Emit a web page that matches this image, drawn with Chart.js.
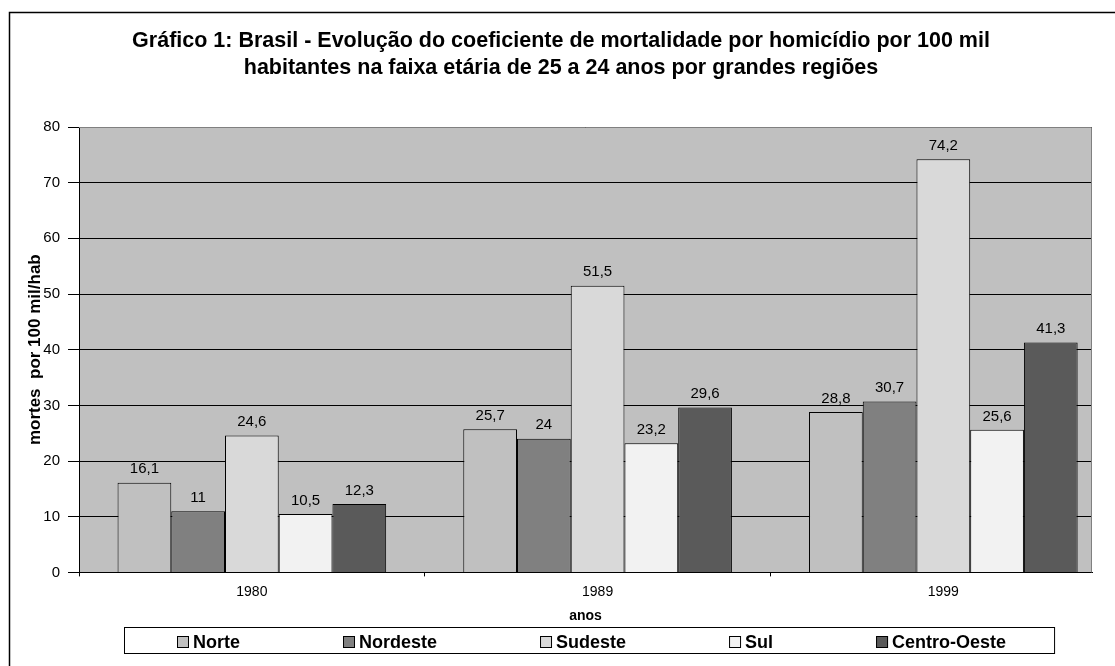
<!DOCTYPE html>
<html>
<head>
<meta charset="utf-8">
<script src="https://cdn.jsdelivr.net/npm/chart.js@4.4.0/dist/chart.umd.min.js"></script>
<style>
  html, body { margin: 0; padding: 0; background: #fff; }
  #wrap { width: 1115px; height: 666px; position: relative; }
</style>
</head>
<body>
<div id="wrap"><canvas id="myChart"></canvas></div>
<script>
// Data
const anos = ['1980', '1989', '1999'];
const norte = [16.1, 25.7, 28.8];
const nordeste = [11, 24, 30.7];
const sudeste = [24.6, 51.5, 74.2];
const sul = [10.5, 23.2, 25.6];
const centroOeste = [12.3, 29.6, 41.3];
const yTicks = [0, 10, 20, 30, 40, 50, 60, 70, 80];

const FONT = "'Liberation Sans', Arial, sans-serif";
Chart.defaults.font.family = FONT;
Chart.defaults.color = '#000';

function fmt(v) {
    return String(v).replace('.', ',');
}

// background, frame, data labels and the boxed legend
const decorPlugin = {
    id: 'decor',
    beforeDraw(chart) {
        const ctx = chart.ctx;
        const a = chart.chartArea;
        ctx.save();
        ctx.fillStyle = '#fff';
        ctx.fillRect(0, 0, chart.width, chart.height);
        ctx.fillStyle = '#c0c0c0';
        ctx.fillRect(a.left, a.top, a.right - a.left, a.bottom - a.top);
        // outer frame (runs off the right and bottom edges)
        ctx.strokeStyle = '#000';
        ctx.lineWidth = 1.5;
        ctx.strokeRect(9.5, 12.5, chart.width + 20, chart.height + 20);
        ctx.restore();
    },
    afterDatasetsDraw(chart) {
        const ctx = chart.ctx;
        const a = chart.chartArea;
        ctx.save();
        // gray top and right edge of plot area
        ctx.strokeStyle = '#808080';
        ctx.lineWidth = 1;
        ctx.beginPath();
        ctx.moveTo(a.left, a.top + 0.5);
        ctx.lineTo(a.right - 0.5, a.top + 0.5);
        ctx.lineTo(a.right - 0.5, a.bottom);
        ctx.stroke();

        // value labels
        ctx.fillStyle = '#000';
        ctx.font = '15px ' + FONT;
        ctx.textAlign = 'center';
        ctx.textBaseline = 'bottom';
        chart.data.datasets.forEach((ds, i) => {
            chart.getDatasetMeta(i).data.forEach((bar, j) => {
                ctx.fillText(fmt(ds.data[j]), bar.x, bar.y - 6);
            });
        });

        // legend
        ctx.font = 'bold 18px ' + FONT;
        ctx.textAlign = 'left';
        ctx.textBaseline = 'middle';
        const cy = 642;
        let x = 177;
        let lastEnd = x;
        chart.data.datasets.forEach(ds => {
            ctx.fillStyle = ds.backgroundColor;
            ctx.fillRect(x, cy - 6, 12, 12);
            ctx.strokeStyle = '#000';
            ctx.strokeRect(x + 0.5, cy - 5.5, 11, 11);
            ctx.fillStyle = '#000';
            ctx.fillText(ds.label, x + 16, cy + 1);
            lastEnd = x + 16 + ctx.measureText(ds.label).width;
            x = lastEnd + 103;
        });
        ctx.strokeStyle = '#000';
        ctx.lineWidth = 1;
        ctx.strokeRect(124.5, 627.5, lastEnd + 48 - 124, 26);
        ctx.restore();
    }
};

const ctx = document.getElementById('myChart').getContext('2d');
const myChart = new Chart(ctx, {
    type: 'bar',
    data: {
        labels: anos,
        datasets: [
            { label: 'Norte', data: norte, backgroundColor: '#c0c0c0' },
            { label: 'Nordeste', data: nordeste, backgroundColor: '#808080' },
            { label: 'Sudeste', data: sudeste, backgroundColor: '#d9d9d9' },
            { label: 'Sul', data: sul, backgroundColor: '#f2f2f2' },
            { label: 'Centro-Oeste', data: centroOeste, backgroundColor: '#5a5a5a' }
        ]
    },
    options: {
        responsive: true,
        maintainAspectRatio: false,
        animation: false,
        datasets: {
            bar: {
                borderColor: '#000',
                borderWidth: 1,
                borderSkipped: 'bottom',
                barPercentage: 1,
                categoryPercentage: 0.777
            }
        },
        layout: { padding: { left: 30, right: 23, top: 0, bottom: 41 } },
        plugins: {
            legend: { display: false },
            tooltip: { enabled: false },
            title: {
                display: true,
                text: ['Gráfico 1: Brasil - Evolução do coeficiente de mortalidade por homicídio por 100 mil',
                       'habitantes na faixa etária de 25 a 24 anos por grandes regiões'],
                font: { size: 21.5, weight: 'bold', lineHeight: '27px' },
                color: '#000',
                padding: { top: 28, bottom: 45 }
            }
        },
        scales: {
            x: {
                // groups in the original sit a little wider than the plot frame
                afterBuildTicks: axis => { axis._startValue = -0.5; axis._valueRange = 2.93; },
                grid: { drawOnChartArea: false, tickLength: 4, color: '#000', offset: true },
                border: { color: '#000' },
                ticks: { font: { size: 14 }, color: '#000', padding: 7 },
                title: {
                    display: true, text: 'anos', color: '#000',
                    font: { size: 14, weight: 'bold' },
                    padding: { top: 1, bottom: 0 }
                }
            },
            y: {
                min: 0,
                max: 80,
                afterBuildTicks: axis => { axis.ticks = yTicks.map(v => ({ value: v })); },
                afterFit: scale => { scale.width = 49; },
                grid: { color: '#000', tickLength: 11 },
                border: { color: '#000' },
                ticks: { font: { size: 15 }, color: '#000', padding: 8 },
                title: {
                    display: true, text: 'mortes  por 100 mil/hab', color: '#000',
                    font: { size: 17, weight: 'bold' },
                    padding: { top: -5, bottom: 0 }
                }
            }
        }
    },
    plugins: [decorPlugin]
});
</script>
</body>
</html>
